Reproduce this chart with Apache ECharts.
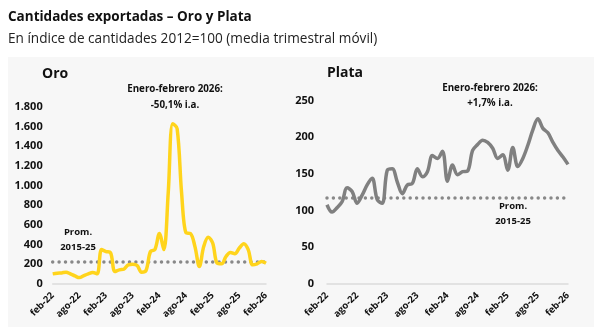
<!DOCTYPE html>
<html>
<head>
<meta charset="utf-8">
<script src="https://cdn.jsdelivr.net/npm/echarts@6/dist/echarts.min.js"></script>
<style>html,body{margin:0;padding:0;background:#fff;}#c{width:600px;height:327px;}</style>
</head>
<body>
<div id="c"></div>
<script>
const months = [
 'feb-22','mar-22','abr-22','may-22','jun-22','jul-22','ago-22','sep-22','oct-22','nov-22','dic-22','ene-23',
 'feb-23','mar-23','abr-23','may-23','jun-23','jul-23','ago-23','sep-23','oct-23','nov-23','dic-23','ene-24',
 'feb-24','mar-24','abr-24','may-24','jun-24','jul-24','ago-24','sep-24','oct-24','nov-24','dic-24','ene-25',
 'feb-25','mar-25','abr-25','may-25','jun-25','jul-25','ago-25','sep-25','oct-25','nov-25','dic-25','ene-26',
 'feb-26'];
const oro = [103,110,113,120,103,82,65,85,103,116,103,350,
 330,320,126,144,150,195,200,188,120,137,330,350,
 513,350,930,1630,1580,930,520,513,383,178,383,475,
 417,212,205,280,321,308,366,410,349,195,205,229,
 212];
const plata = [108,98,104,112,131,126,110,121,135,144,115,110,
 155,157,139,123,135,137,157,146,153,175,171,181,
 140,162,149,153,154,182,190,196,193,185,171,176,
 155,186,160,171,189,210,225,212,206,193,182,173,
 163];
const oroProm = 225;
const plataProm = 117;
const oroTicks = [0,200,400,600,800,1000,1200,1400,1600,1800];
const plataTicks = [0,50,100,150,200,250];

const FONT = 'Open Sans';
const fmt = v => String(v).replace(/\B(?=(\d{3})+(?!\d))/g, '.');
const chart = echarts.init(document.getElementById('c'), null, {renderer:'canvas'});
function xAxis(i){
  return {type:'category', gridIndex:i, data:months, boundaryGap:false,
    axisLine:{lineStyle:{color:'#dcdcdc', width:1.5}}, axisTick:{show:false},
    axisLabel:{interval:5, rotate:45, fontFamily:FONT, fontWeight:'bold', fontSize:9.5, color:'#111', margin:10}};
}
function yAxis(i, max, interval, margin){
  return {type:'value', gridIndex:i, min:0, max:max, interval:interval,
    axisLine:{show:false}, axisTick:{show:false}, splitLine:{show:false},
    axisLabel:{fontFamily:FONT, fontWeight:'bold', fontSize:11, color:'#111', margin:margin, formatter:fmt}};
}
const dots = {color:'#888', width:3.5, type:[0,6.4], cap:'round'};
chart.setOption({
  backgroundColor:'#fff',
  animation:false,
  graphic:[
    {type:'rect', z:-10, shape:{x:8,y:57,width:586,height:270}, style:{fill:'#f7f7f7'}},
    {type:'text', left:8, top:10, style:{text:'Cantidades exportadas – Oro y Plata', font:'bold 13.5px "Open Sans"', fill:'#111'}},
    {type:'text', left:8, top:32, style:{text:'En índice de cantidades 2012=100 (media trimestral móvil)', font:'13.6px "Open Sans"', fill:'#222'}},
    {type:'text', left:42, top:67, style:{text:'Oro', font:'bold 14px "Open Sans"', fill:'#111'}},
    {type:'text', left:327, top:66, style:{text:'Plata', font:'bold 14px "Open Sans"', fill:'#111'}},
    {type:'text', x:175, y:97, style:{text:'Enero-febrero 2026:\n-50,1% i.a.', font:'bold 9.8px "Open Sans"', fill:'#111', align:'center', verticalAlign:'middle', lineHeight:16}},
    {type:'text', x:490, y:96, style:{text:'Enero-febrero 2026:\n+1,7% i.a.', font:'bold 9.8px "Open Sans"', fill:'#111', align:'center', verticalAlign:'middle', lineHeight:15}},
    {type:'text', x:78, y:240, style:{text:'Prom.\n2015-25', font:'bold 9.5px "Open Sans"', fill:'#111', align:'center', verticalAlign:'middle', lineHeight:15}},
    {type:'text', x:513, y:214, style:{text:'Prom.\n2015-25', font:'bold 9.5px "Open Sans"', fill:'#111', align:'center', verticalAlign:'middle', lineHeight:15}}
  ],
  grid:[
    {left:52.7, right:334, top:107, bottom:43},
    {left:327, right:32, top:100.5, bottom:43}
  ],
  xAxis:[xAxis(0), xAxis(1)],
  yAxis:[yAxis(0,1800,200,10), yAxis(1,250,50,13)],
  series:[
    {type:'line', xAxisIndex:0, yAxisIndex:0, data:months.map(()=>oroProm), symbol:'none', lineStyle:dots, z:1},
    {type:'line', xAxisIndex:0, yAxisIndex:0, data:oro, symbol:'none', smooth:0.35, lineStyle:{color:'#FFD41C', width:3.5}, z:2},
    {type:'line', xAxisIndex:1, yAxisIndex:1, data:months.map(()=>plataProm), symbol:'none', lineStyle:dots, z:1},
    {type:'line', xAxisIndex:1, yAxisIndex:1, data:plata, symbol:'none', smooth:0.35, lineStyle:{color:'#808080', width:3.5}, z:2}
  ]
});
</script>
</body>
</html>
